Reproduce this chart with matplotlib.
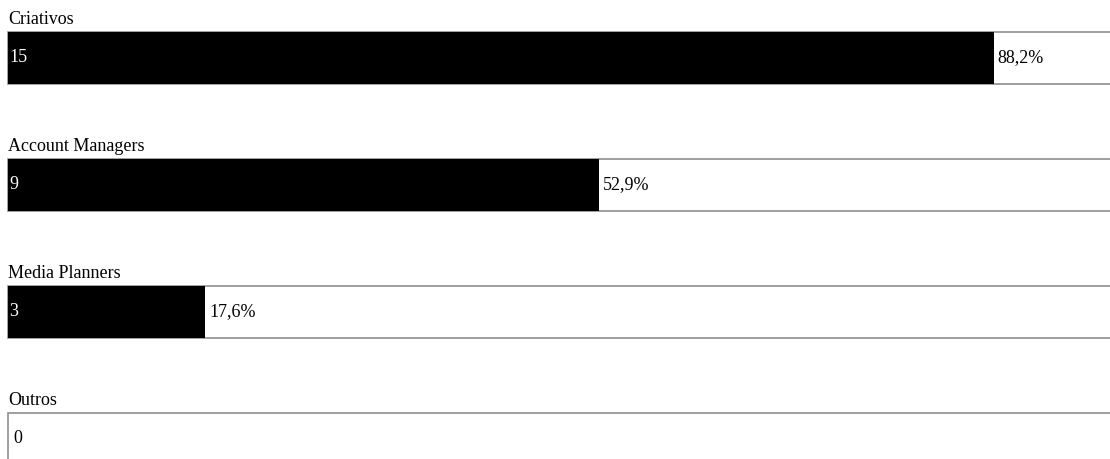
import matplotlib
matplotlib.use('Agg')
import matplotlib.pyplot as plt
from matplotlib.patches import Rectangle

# answers per role
categories = ['Criativos', 'Account Managers', 'Media Planners', 'Outros']
counts = [15, 9, 3, 0]
total = 17

plt.rcParams['font.family'] = ['Liberation Serif', 'DejaVu Serif']

W, H = 1110, 459
fig = plt.figure(figsize=(W / 100, H / 100), dpi=100)
ax = fig.add_axes([0, 0, 1, 1])

# 100 % spans 1117 px starting at x=8; rows are 127 px apart, first centre at y=58
px_per_pct = 1117 / 100
row_px = 127
ax.set_xlim(-8 / px_per_pct, (W - 8) / px_per_pct)
ax.set_ylim((H - 58) / row_px, -58 / row_px)
ax.axis('off')

bar_h = 52 / row_px
gap = 8 / row_px
fs = 13

for i, (name, n) in enumerate(zip(categories, counts)):
    pct = n / total * 100
    # outline box for the full 100 %
    ax.add_patch(Rectangle((0, i - bar_h / 2), 100, bar_h, facecolor='white',
                           edgecolor='#8f8f8f', linewidth=1.2, zorder=1))
    if n > 0:
        ax.barh(i, pct, height=bar_h, left=0, color='black', zorder=2)
        ax.text(0.1, i, str(n), color='white', fontsize=fs, va='center', ha='left', zorder=3)
        ax.text(pct + 4 / px_per_pct, i, f'{pct:.1f}'.replace('.', ',') + '%',
                color='black', fontsize=fs, va='center', ha='left', zorder=3)
    else:
        ax.text(5 / px_per_pct, i, str(n), color='black', fontsize=fs, va='center', ha='left', zorder=3)
    ax.text(0, i - bar_h / 2 - gap, name, fontsize=fs, va='baseline', ha='left')

fig.savefig('out.png', dpi=100)
